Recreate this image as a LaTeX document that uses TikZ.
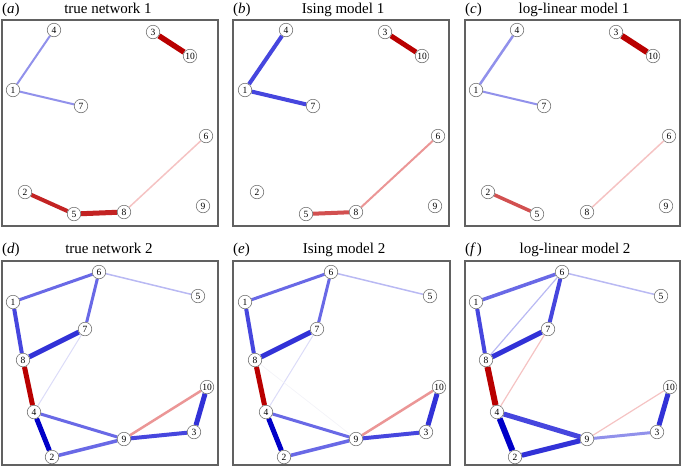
\documentclass[tikz,border=0pt]{standalone}
\usepackage{fontspec}
\setmainfont{Liberation Serif}
\usetikzlibrary{backgrounds}
\definecolor{redD}{RGB}{185,0,0}
\definecolor{redS}{RGB}{195,35,35}
\definecolor{redM}{RGB}{210,80,80}
\definecolor{redL}{RGB}{235,150,150}
\definecolor{pinkL}{RGB}{245,195,195}
\definecolor{blueD}{RGB}{0,0,200}
\definecolor{blueS}{RGB}{50,50,215}
\definecolor{blueT}{RGB}{70,70,222}
\definecolor{blueM}{RGB}{105,105,230}
\definecolor{blueL}{RGB}{145,145,235}
\definecolor{blueVL}{RGB}{185,185,243}
\definecolor{blueF}{RGB}{220,220,248}
\definecolor{greyF}{RGB}{243,243,248}
\tikzset{
  x=1pt, y=-1pt,
  vert/.style={circle, draw=black!55, fill=white, line width=0.6pt, inner sep=0pt,
    minimum size=13.5pt, font=\fontsize{9.5}{9.5}\selectfont},
  panelbox/.style={draw=black!62, line width=1.1pt},
  ttl/.style={anchor=base, inner sep=0pt, font=\fontsize{15}{15}\selectfont},
  lbl/.style={anchor=base west, inner sep=0pt, font=\fontsize{15}{15}\selectfont},
  ed/.style 2 args={draw=#1, line width=#2pt},
}
\newcommand\placerowone[3]{%
  \begin{scope}[shift={(#2,#3)}]
    \node[vert] (#1-4) at (52,10) {4};
    \node[vert] (#1-3) at (151,12) {3};
    \node[vert] (#1-10) at (188,36) {10};
    \node[vert] (#1-1) at (11,70) {1};
    \node[vert] (#1-7) at (79,86) {7};
    \node[vert] (#1-6) at (204,116) {6};
    \node[vert] (#1-2) at (23,172) {2};
    \node[vert] (#1-5) at (72,194) {5};
    \node[vert] (#1-8) at (122,192) {8};
    \node[vert] (#1-9) at (201,186) {9};
  \end{scope}}
\newcommand\placerowtwo[3]{%
  \begin{scope}[shift={(#2,#3)}]
    \node[vert] (#1-6) at (97,11) {6};
    \node[vert] (#1-5) at (196,35) {5};
    \node[vert] (#1-1) at (11,41) {1};
    \node[vert] (#1-7) at (83,68) {7};
    \node[vert] (#1-8) at (21,99) {8};
    \node[vert] (#1-10) at (205,126) {10};
    \node[vert] (#1-4) at (32,151) {4};
    \node[vert] (#1-9) at (122,178) {9};
    \node[vert] (#1-3) at (192,171) {3};
    \node[vert] (#1-2) at (50,196) {2};
  \end{scope}}
\begin{document}
\begin{tikzpicture}
\useasboundingbox (0,0) rectangle (682,467);
% panel frames
\draw[panelbox] (2,20) rectangle (218,226);
\draw[panelbox] (233,20) rectangle (449,226);
\draw[panelbox] (465,20) rectangle (680,226);
\draw[panelbox] (2,261) rectangle (218,465);
\draw[panelbox] (233,261) rectangle (450,465);
\draw[panelbox] (465,261) rectangle (680,465);
% titles
\node[lbl] (la) at (2,13) {(\textit{a})};
\node[ttl] (ta) at (108,13) {true network 1};
\node[lbl] (lb) at (233,13) {(\textit{b})};
\node[ttl] (tb) at (343,13) {Ising model 1};
\node[lbl] (lc) at (465,13) {(\textit{c})};
\node[ttl] (tc) at (574,13) {log-linear model 1};
\node[lbl] (ld) at (2,253) {(\textit{d})};
\node[ttl] (td) at (109,253) {true network 2};
\node[lbl] (le) at (233,253) {(\textit{e})};
\node[ttl] (te) at (344,253) {Ising model 2};
\node[lbl] (lf) at (465,253) {(\textit{f\,})};
\node[ttl] (tf) at (575,253) {log-linear model 2};
% nodes
\placerowone{a}{2}{20}
\placerowone{b}{234}{20}
\placerowone{c}{465}{20}
\placerowtwo{d}{2}{261}
\placerowtwo{e}{234}{261}
\placerowtwo{f}{465}{261}
% edges
\begin{scope}[on background layer]
% (a)
\draw[ed={blueL}{2}] (a-1) -- (a-4);
\draw[ed={blueL}{2}] (a-1) -- (a-7);
\draw[ed={redD}{5.5}] (a-3) -- (a-10);
\draw[ed={redS}{4}] (a-2) -- (a-5);
\draw[ed={redS}{5}] (a-5) -- (a-8);
\draw[ed={pinkL}{1.5}] (a-8) -- (a-6);
% (b)
\draw[ed={blueT}{4}] (b-1) -- (b-4);
\draw[ed={blueT}{4}] (b-1) -- (b-7);
\draw[ed={redD}{5}] (b-3) -- (b-10);
\draw[ed={redM}{4}] (b-5) -- (b-8);
\draw[ed={redL}{2}] (b-8) -- (b-6);
% (c)
\draw[ed={blueL}{2.5}] (c-1) -- (c-4);
\draw[ed={blueL}{2}] (c-1) -- (c-7);
\draw[ed={redD}{6}] (c-3) -- (c-10);
\draw[ed={redM}{3.5}] (c-2) -- (c-5);
\draw[ed={pinkL}{1.5}] (c-8) -- (c-6);
% (d)
\draw[ed={blueM}{3}] (d-1) -- (d-6);
\draw[ed={blueVL}{1.5}] (d-6) -- (d-5);
\draw[ed={blueM}{3}] (d-6) -- (d-7);
\draw[ed={blueT}{4}] (d-1) -- (d-8);
\draw[ed={blueS}{5}] (d-8) -- (d-7);
\draw[ed={blueF}{1}] (d-7) -- (d-4);
\draw[ed={redD}{5}] (d-8) -- (d-4);
\draw[ed={blueD}{5}] (d-4) -- (d-2);
\draw[ed={blueM}{3}] (d-4) -- (d-9);
\draw[ed={blueM}{3.5}] (d-2) -- (d-9);
\draw[ed={redL}{2.5}] (d-9) -- (d-10);
\draw[ed={blueT}{4}] (d-9) -- (d-3);
\draw[ed={blueS}{5}] (d-3) -- (d-10);
% (e)
\draw[ed={blueM}{3}] (e-1) -- (e-6);
\draw[ed={blueVL}{1.5}] (e-6) -- (e-5);
\draw[ed={blueM}{3}] (e-6) -- (e-7);
\draw[ed={blueT}{4}] (e-1) -- (e-8);
\draw[ed={blueS}{5}] (e-8) -- (e-7);
\draw[ed={blueF}{1}] (e-7) -- (e-4);
\draw[ed={greyF}{0.7}] (e-8) -- (e-9);
\draw[ed={redD}{5}] (e-8) -- (e-4);
\draw[ed={blueD}{5}] (e-4) -- (e-2);
\draw[ed={blueM}{3}] (e-4) -- (e-9);
\draw[ed={blueM}{3.5}] (e-2) -- (e-9);
\draw[ed={redL}{2.5}] (e-9) -- (e-10);
\draw[ed={blueT}{4}] (e-9) -- (e-3);
\draw[ed={blueS}{5}] (e-3) -- (e-10);
% (f)
\draw[ed={blueM}{3.5}] (f-1) -- (f-6);
\draw[ed={blueVL}{1.5}] (f-6) -- (f-5);
\draw[ed={blueT}{4}] (f-6) -- (f-7);
\draw[ed={blueVL}{1.2}] (f-6) -- (f-8);
\draw[ed={blueT}{4}] (f-1) -- (f-8);
\draw[ed={blueS}{5}] (f-8) -- (f-7);
\draw[ed={pinkL}{1.2}] (f-7) -- (f-4);
\draw[ed={redD}{6}] (f-8) -- (f-4);
\draw[ed={blueD}{6}] (f-4) -- (f-2);
\draw[ed={blueT}{5}] (f-4) -- (f-9);
\draw[ed={blueS}{5}] (f-2) -- (f-9);
\draw[ed={pinkL}{1.2}] (f-9) -- (f-10);
\draw[ed={blueL}{3}] (f-9) -- (f-3);
\draw[ed={blueS}{5}] (f-3) -- (f-10);
\end{scope}
\end{tikzpicture}
\end{document}
